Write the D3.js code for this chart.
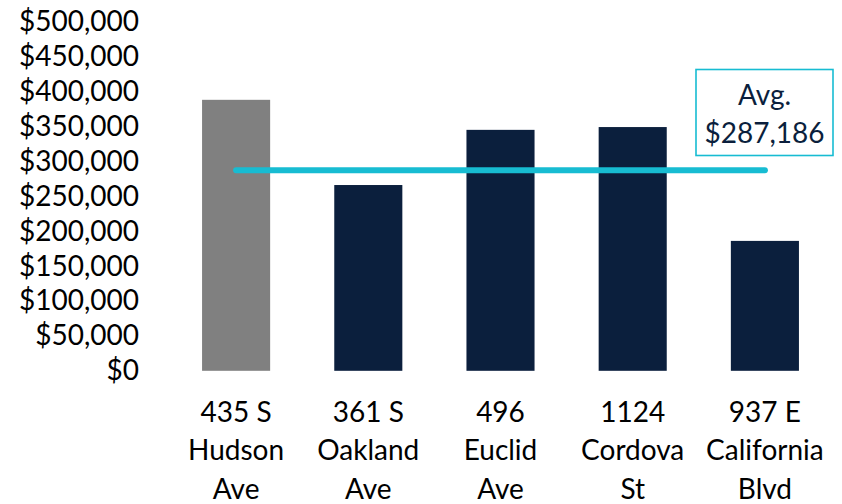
<!DOCTYPE html>
<html>
<head>
<meta charset="utf-8">
<script src="https://cdn.jsdelivr.net/npm/d3@7"></script>
<style>
  html, body { margin: 0; padding: 0; background: #ffffff; }
  svg text { font-family: Lato, "Open Sans", sans-serif; }
</style>
</head>
<body>
<svg id="chart" width="842" height="504"></svg>
<script>
// Sale prices by property address
const categories = [
  ["435 S", "Hudson", "Ave"],
  ["361 S", "Oakland", "Ave"],
  ["496", "Euclid", "Ave"],
  ["1124", "Cordova", "St"],
  ["937 E", "California", "Blvd"]
];
const prices = [388000, 266000, 345000, 349000, 186000];
const highlighted = [true, false, false, false, false];
const averagePrice = 287186;
const yTicks = [0, 50000, 100000, 150000, 200000, 250000, 300000, 350000, 400000, 450000, 500000];

const svg = d3.select("#chart");
const keys = categories.map(c => c.join(" "));

const x = d3.scaleBand()
  .domain(keys)
  .range([170, 831])
  .paddingInner(0.485)
  .paddingOuter(0.2425);

const y = d3.scaleLinear()
  .domain([0, 500000])
  .range([370.8, 21.6]);

const fmt = d3.format("$,");

// Y axis labels only (no axis line, no gridlines)
const yAxis = d3.axisLeft(y).tickValues(yTicks).tickFormat(fmt).tickSize(0).tickPadding(0);
const yg = svg.append("g").attr("transform", "translate(139,0)").call(yAxis);
yg.select(".domain").remove();
yg.selectAll("text")
  .attr("font-size", 28)
  .attr("fill", "#000")
  .attr("font-family", "Lato, sans-serif");

// Bars
svg.append("g").selectAll("rect")
  .data(prices)
  .join("rect")
  .attr("x", (d, i) => x(keys[i]))
  .attr("y", d => y(d))
  .attr("width", x.bandwidth())
  .attr("height", d => y(0) - y(d))
  .attr("fill", (d, i) => highlighted[i] ? "#808080" : "#0b1f3d");

// Category labels, one line per word group
const lab = svg.append("g").selectAll("text")
  .data(categories)
  .join("text")
  .attr("text-anchor", "middle")
  .attr("font-size", 28)
  .attr("fill", "#000");
lab.selectAll("tspan")
  .data((d, i) => d.map(line => ({ line, key: keys[i] })))
  .join("tspan")
  .attr("x", d => x(d.key) + x.bandwidth() / 2)
  .attr("y", (d, j) => 422 + j * 38.3)
  .text(d => d.line);

// Average line
const first = keys[0], last = keys[keys.length - 1];
svg.append("line")
  .attr("x1", x(first) + x.bandwidth() / 2)
  .attr("x2", x(last) + x.bandwidth() / 2)
  .attr("y1", y(averagePrice))
  .attr("y2", y(averagePrice))
  .attr("stroke", "#17bcd2")
  .attr("stroke-width", 6)
  .attr("stroke-linecap", "round");

// Average callout
const box = svg.append("g");
box.append("rect")
  .attr("x", 696)
  .attr("y", 69.5)
  .attr("width", 137)
  .attr("height", 86)
  .attr("fill", "#ffffff")
  .attr("stroke", "#17bcd2")
  .attr("stroke-width", 1.6);
const bt = box.append("text")
  .attr("text-anchor", "middle")
  .attr("font-size", 28)
  .attr("fill", "#0b1f3d");
bt.append("tspan").attr("x", 764.5).attr("y", 105).text("Avg.");
bt.append("tspan").attr("x", 764.5).attr("y", 143).text(fmt(averagePrice));
</script>
</body>
</html>
